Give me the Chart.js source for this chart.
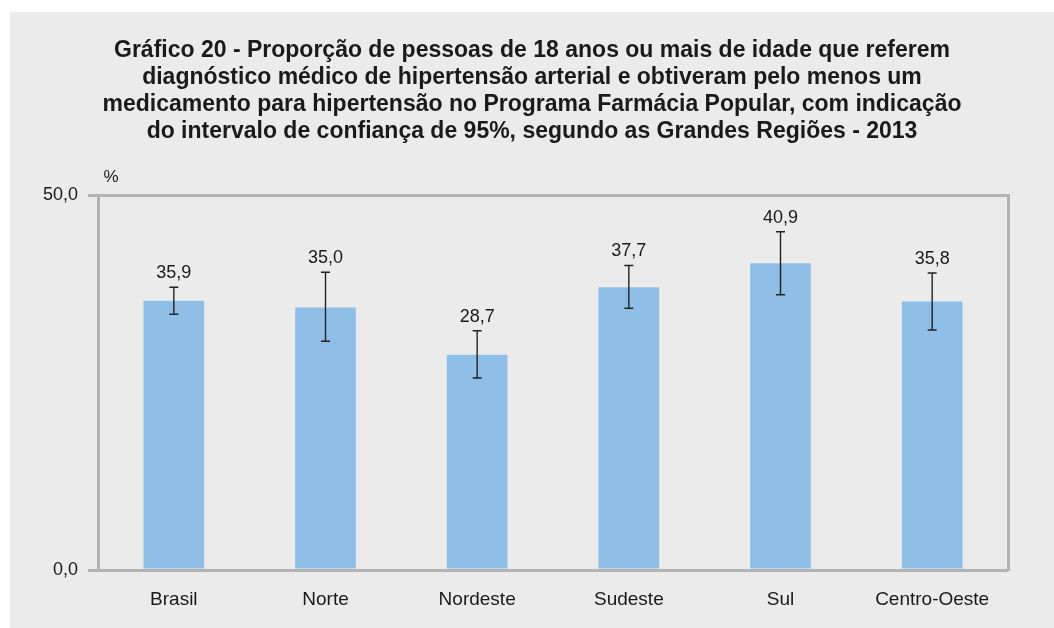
<!DOCTYPE html>
<html>
<head>
<meta charset="utf-8">
<script src="https://cdn.jsdelivr.net/npm/chart.js@4"></script>
<style>
  html, body { margin: 0; padding: 0; background: #ffffff; }
  #frame { position: absolute; left: 10px; top: 12px; width: 1044px; height: 616px; background: #ebebeb; }
  canvas { display: block; }
</style>
</head>
<body>
<div id="frame"><canvas id="c" width="1044" height="616"></canvas></div>
<script>
const titleLines = [
  "Gráfico 20 - Proporção de pessoas de 18 anos ou mais de idade que referem",
  "diagnóstico médico de hipertensão arterial e obtiveram pelo menos um",
  "medicamento para hipertensão no Programa Farmácia Popular, com indicação",
  "do intervalo de confiança de 95%, segundo as Grandes Regiões - 2013"
];
const unitLabel = "%";
const categories = ["Brasil", "Norte", "Nordeste", "Sudeste", "Sul", "Centro-Oeste"];
const values = [35.9, 35.0, 28.7, 37.7, 40.9, 35.8];
const ciUpper = [37.7, 39.7, 31.9, 40.6, 45.1, 39.6];
const ciLower = [34.1, 30.5, 25.6, 34.9, 36.7, 32.0];
const yTicks = [0, 50];

const FONT = "'Liberation Sans', Arial, Helvetica, sans-serif";
const TEXT = "#1a1a1a";
const FRAME = "#b3b3b3";
const fmt = v => v.toFixed(1).replace('.', ',');

const errorBarPlugin = {
  id: 'errorBars',
  afterDatasetsDraw(chart) {
    const ctx = chart.ctx;
    const y = chart.scales.y;
    const meta = chart.getDatasetMeta(0);
    ctx.save();
    meta.data.forEach((el, i) => {
      const x = el.x;
      const yt = y.getPixelForValue(ciUpper[i]);
      const yb = y.getPixelForValue(ciLower[i]);
      ctx.strokeStyle = '#222222';
      ctx.lineWidth = 1.4;
      ctx.beginPath();
      ctx.moveTo(x, yt); ctx.lineTo(x, yb);
      ctx.moveTo(x - 4.5, yt); ctx.lineTo(x + 4.5, yt);
      ctx.moveTo(x - 4.5, yb); ctx.lineTo(x + 4.5, yb);
      ctx.stroke();
      ctx.fillStyle = TEXT;
      ctx.font = "18px " + FONT;
      ctx.textAlign = 'center';
      ctx.textBaseline = 'middle';
      ctx.fillText(fmt(values[i]), x, yt - 14);
    });
    // unit label above the y axis
    ctx.font = "17px " + FONT;
    ctx.textAlign = 'center';
    ctx.textBaseline = 'middle';
    ctx.fillText(unitLabel, chart.chartArea.left + 13, chart.chartArea.top - 18);
    ctx.restore();
  }
};

new Chart(document.getElementById('c'), {
  type: 'bar',
  data: {
    labels: categories,
    datasets: [{
      data: values,
      backgroundColor: '#8fbfe7',
      borderWidth: 0,
      barPercentage: 0.4,
      categoryPercentage: 1.0
    }]
  },
  options: {
    responsive: false,
    animation: false,
    layout: { padding: { left: 0, right: 0, top: 0, bottom: 0 } },
    plugins: {
      legend: { display: false },
      tooltip: { enabled: false },
      title: {
        display: true,
        text: titleLines,
        color: TEXT,
        font: { family: FONT, size: 23, weight: 'bold', lineHeight: 27 / 23 },
        padding: { top: 25, bottom: 50 }
      }
    },
    scales: {
      x: {
        grid: { display: false, drawTicks: false },
        border: { display: false },
        ticks: { color: TEXT, font: { family: FONT, size: 19 }, padding: 18, maxRotation: 0 },
        afterFit(s) { s.height = 58; }
      },
      y: {
        min: yTicks[0],
        max: yTicks[yTicks.length - 1],
        afterBuildTicks(s) { s.ticks = yTicks.map(v => ({ value: v })); },
        grid: { color: FRAME, lineWidth: 3, drawTicks: true, tickLength: 10 },
        border: { display: true, color: FRAME, width: 3 },
        ticks: { color: TEXT, font: { family: FONT, size: 18 }, padding: 10, callback: v => fmt(v) },
        afterFit(s) { s.width = 88; }
      },
      y2: {
        position: 'right',
        display: true,
        min: 0, max: 50,
        grid: { display: false },
        ticks: { display: false },
        border: { display: true, color: FRAME, width: 3 },
        afterFit(s) { s.width = 46; }
      }
    }
  },
  plugins: [errorBarPlugin]
});
</script>
</body>
</html>
